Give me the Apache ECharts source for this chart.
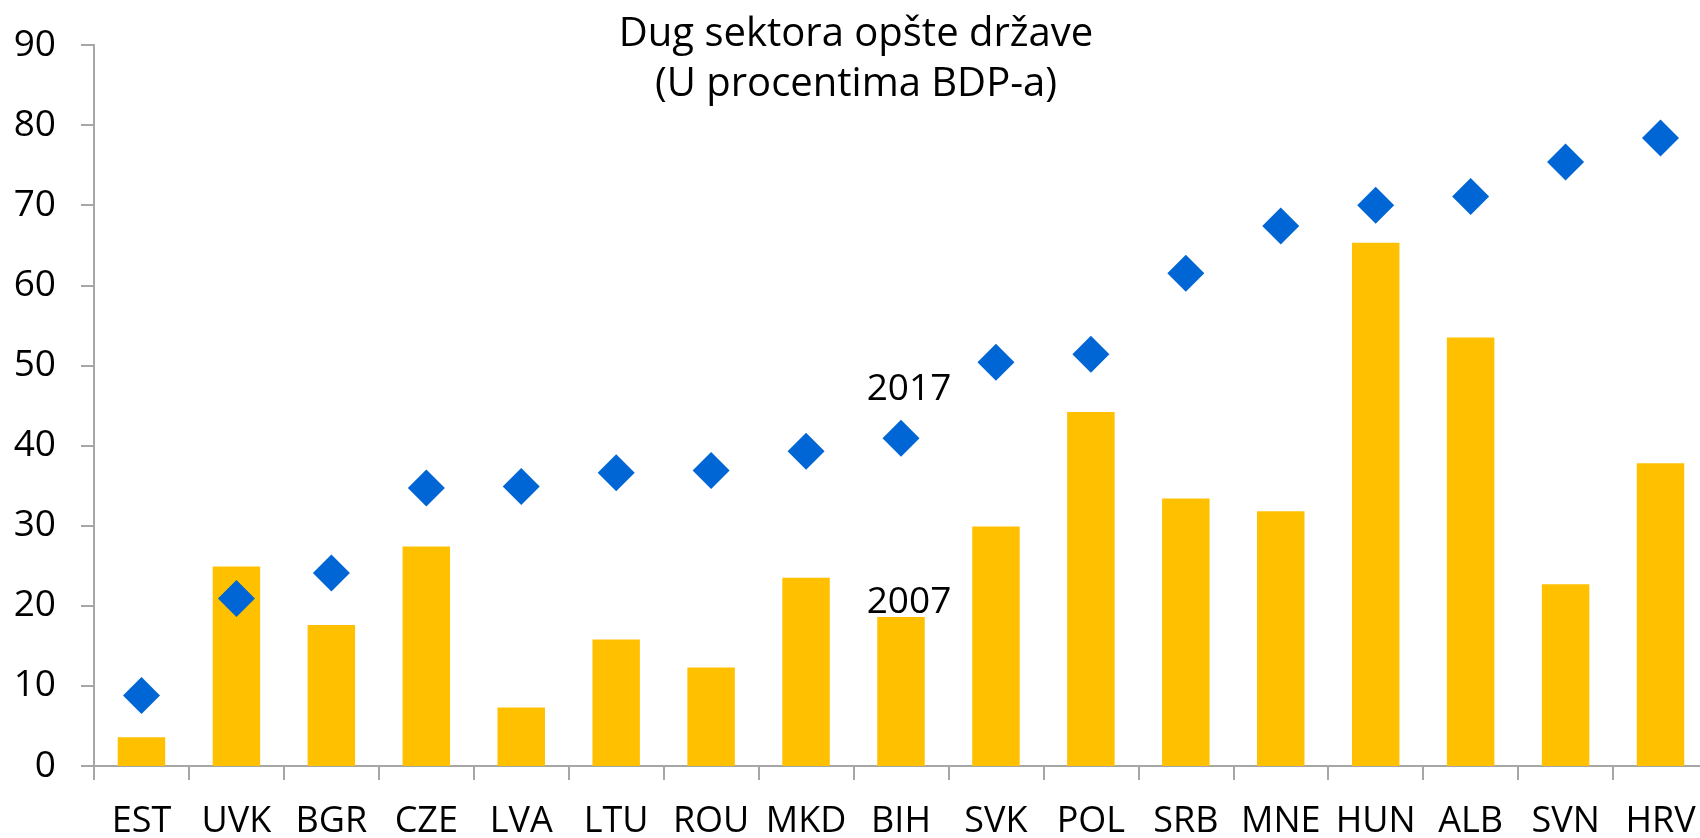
<!DOCTYPE html>
<html>
<head>
<meta charset="utf-8">
<script src="https://cdn.jsdelivr.net/npm/echarts@6/dist/echarts.min.js"></script>
<style>
  html, body { margin: 0; padding: 0; background: #fff; }
  #chart { width: 1700px; height: 838px; }
</style>
</head>
<body>
<div id="chart"></div>
<script>
// kategorije (zemlje)
var categories = ['EST', 'UVK', 'BGR', 'CZE', 'LVA', 'LTU', 'ROU', 'MKD', 'BIH',
                  'SVK', 'POL', 'SRB', 'MNE', 'HUN', 'ALB', 'SVN', 'HRV'];
// dug 2007 (stubici)
var debt2007 = [3.6, 24.9, 17.6, 27.4, 7.3, 15.8, 12.3, 23.5, 18.6,
                29.9, 44.2, 33.4, 31.8, 65.3, 53.5, 22.7, 37.8];
// dug 2017 (rombovi)
var debt2017 = [8.8, 20.9, 24.1, 34.7, 34.9, 36.6, 36.9, 39.3, 40.9,
                50.4, 51.4, 61.5, 67.4, 70.0, 71.1, 75.4, 78.4];
var yTicks = [0, 10, 20, 30, 40, 50, 60, 70, 80, 90];
var labelIdx = 8; // BIH nosi oznake godina

var fontFam = '"Open Sans", "Noto Sans", sans-serif';

var myChart = echarts.init(document.getElementById('chart'));

var barData = debt2007.map(function (v, i) {
	if (i !== labelIdx) return v;
	return {
		value: v,
		label: { show: true, formatter: '2007', position: 'top', distance: -4, offset: [8, 0],
			color: '#000', fontSize: 37, fontFamily: fontFam }
	};
});
var dotData = debt2017.map(function (v, i) {
	if (i !== labelIdx) return v;
	return {
		value: v,
		label: { show: true, formatter: '2017', position: 'top', distance: 12, offset: [8, 0],
			color: '#000', fontSize: 37, fontFamily: fontFam }
	};
});

var option = {
	animation: false,
	backgroundColor: '#fff',
	title: {
		text: 'Dug sektora opšte države\n(U procentima BDP-a)',
		left: 851,
		top: 5,
		textAlign: 'center',
		textStyle: { fontSize: 40, fontWeight: 'normal', color: '#000', lineHeight: 50, fontFamily: fontFam }
	},
	grid: { left: 94, top: 45, width: 1614, height: 721, outerBoundsMode: 'none', containLabel: false },
	xAxis: {
		type: 'category',
		data: categories,
		axisLine: { lineStyle: { color: '#A6A6A6', width: 2 } },
		axisTick: { show: true, length: 14, lineStyle: { color: '#A6A6A6', width: 2 } },
		axisLabel: { color: '#000', fontSize: 36, margin: 38, fontFamily: fontFam, interval: 0 }
	},
	yAxis: {
		type: 'value',
		min: yTicks[0],
		max: yTicks[yTicks.length - 1],
		interval: 10,
		splitLine: { show: false },
		axisLine: { show: true, lineStyle: { color: '#A6A6A6', width: 2 } },
		axisTick: { show: true, length: 13, lineStyle: { color: '#A6A6A6', width: 2 } },
		axisLabel: { color: '#000', fontSize: 37, margin: 38, fontFamily: fontFam }
	},
	series: [
		{
			name: '2007',
			type: 'bar',
			data: barData,
			barWidth: '50%',
			itemStyle: { color: '#FFC000' }
		},
		{
			name: '2017',
			type: 'scatter',
			data: dotData,
			symbol: 'diamond',
			symbolSize: [37, 37],
			itemStyle: { color: '#0066D6', opacity: 1 },
			z: 5
		}
	]
};
myChart.setOption(option);
</script>
</body>
</html>
